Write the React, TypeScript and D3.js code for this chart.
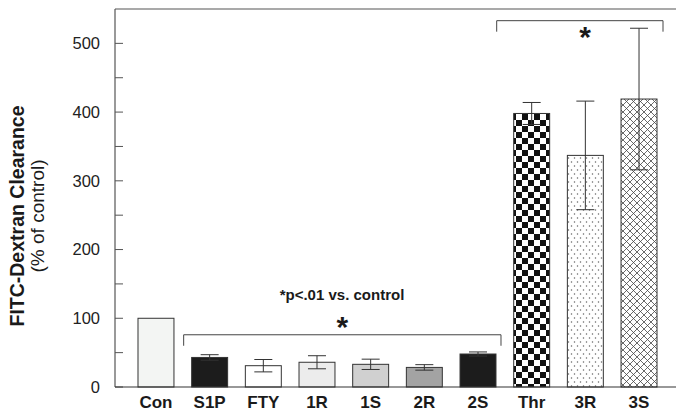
import React from 'react';
import * as d3 from 'd3';

const categories = ['Con', 'S1P', 'FTY', '1R', '1S', '2R', '2S', 'Thr', '3R', '3S'];
const means = [100, 43, 31, 36, 33, 28.5, 48, 398, 337, 419];
const errors = [0, 4, 9, 9.5, 7.5, 4, 3, 16, 79, 103];
const fills = ['#f3f5f3', '#1c1c1c', '#ffffff', '#ececec', '#d0d0d0', '#a3a3a3', '#1c1c1c', 'url(#checker)', 'url(#dots)', 'url(#xhatch)'];
const yTicks = [0, 50, 100, 150, 200, 250, 300, 350, 400, 450, 500];
const yLabels = [0, 100, 200, 300, 400, 500];
const lowGroup = ['S1P', '2S'];
const highGroup = ['Thr', '3S'];
const lowBracket = [76, 60];
const highBracket = [533, 517];

const W = 676, H = 414;
const X0 = 115, X1 = 676, Y0 = 387, Y1 = 9;

export default function App() {
  const x = d3.scaleBand<string>().domain(categories).range([119, 676]).paddingInner(0.33).paddingOuter(0.354);
  const y = d3.scaleLinear().domain([0, 550]).range([Y0, Y1]);
  const bw = x.bandwidth();
  const font = 'Liberation Sans, Arial, Helvetica, sans-serif';
  const cap = 18;

  const lx0 = (x(lowGroup[0]) as number) - 8;
  const lx1 = (x(lowGroup[1]) as number) + bw + 5;
  const hx0 = (x(highGroup[0]) as number) - 17;
  const hx1 = (x(highGroup[1]) as number) + bw + 6;

  return (
    <div style={{ position: 'fixed', left: 0, top: 0 }}>
      <svg width={W} height={H} style={{ display: 'block', background: '#fff' }}>
        <defs>
          <pattern id="checker" patternUnits="userSpaceOnUse" width={12} height={12}>
            <rect width={12} height={12} fill="#fff" />
            <rect x={0} y={0} width={6} height={6} fill="#111" />
            <rect x={6} y={6} width={6} height={6} fill="#111" />
          </pattern>
          <pattern id="dots" patternUnits="userSpaceOnUse" width={6} height={8}>
            <rect width={6} height={8} fill="#fff" />
            <circle cx={1.5} cy={2} r={0.75} fill="#666" />
            <circle cx={4.5} cy={6} r={0.75} fill="#666" />
          </pattern>
          <pattern id="xhatch" patternUnits="userSpaceOnUse" width={7} height={7}>
            <rect width={7} height={7} fill="#fff" />
            <path d="M0,0L7,7M7,0L0,7" stroke="#444" strokeWidth={0.8} />
          </pattern>
        </defs>

        {/* frame */}
        <line x1={X0} x2={X1} y1={Y1} y2={Y1} stroke="#555" strokeWidth={1.2} />
        <line x1={X0} x2={X0} y1={Y1} y2={Y0} stroke="#555" strokeWidth={1.2} />

        {yTicks.map((t) => (
          <line key={t} x1={X0} x2={X0 + 8} y1={y(t)} y2={y(t)} stroke="#555" strokeWidth={1} />
        ))}
        {yLabels.map((t) => (
          <text key={t} x={100} y={y(t)} dy="0.36em" textAnchor="end" fontFamily={font} fontSize={16.5} fill="#222">
            {t}
          </text>
        ))}

        {categories.map((c, i) => {
          const bx = x(c) as number;
          return (
            <g key={c}>
              <rect x={bx} y={y(means[i])} width={bw} height={Y0 - y(means[i])} fill={fills[i]} stroke="#333" strokeWidth={1} />
              {errors[i] > 0 && (
                <g stroke="#333" strokeWidth={1}>
                  <line x1={bx + bw / 2} x2={bx + bw / 2} y1={y(means[i] - errors[i])} y2={y(means[i] + errors[i])} />
                  <line x1={bx + bw / 2 - cap / 2} x2={bx + bw / 2 + cap / 2} y1={y(means[i] + errors[i])} y2={y(means[i] + errors[i])} />
                  <line x1={bx + bw / 2 - cap / 2} x2={bx + bw / 2 + cap / 2} y1={y(means[i] - errors[i])} y2={y(means[i] - errors[i])} />
                </g>
              )}
              <text x={bx + bw / 2} y={408} textAnchor="middle" fontFamily={font} fontWeight="bold" fontSize={17} fill="#1a1a1a">
                {c}
              </text>
            </g>
          );
        })}

        <line x1={X0} x2={X1} y1={Y0} y2={Y0} stroke="#333" strokeWidth={1.2} />

        {/* brackets */}
        <path d={`M${lx0},${y(lowBracket[1])}V${y(lowBracket[0])}H${lx1}V${y(lowBracket[1])}`} fill="none" stroke="#444" strokeWidth={1} />
        <path d={`M${hx0},${y(highBracket[1])}V${y(highBracket[0])}H${hx1}V${y(highBracket[1])}`} fill="none" stroke="#444" strokeWidth={1} />
        <text x={(lx0 + lx1) / 2} y={337} textAnchor="middle" fontFamily={font} fontWeight="bold" fontSize={30} fill="#1a1a1a">*</text>
        <text x={585} y={47} textAnchor="middle" fontFamily={font} fontWeight="bold" fontSize={30} fill="#1a1a1a">*</text>
        <text x={342} y={300} textAnchor="middle" fontFamily={font} fontWeight="bold" fontSize={15} fill="#1a1a1a">*p&lt;.01 vs. control</text>

        {/* y title */}
        <text transform="translate(24,216) rotate(-90)" textAnchor="middle" fontFamily={font} fontWeight="bold" fontSize={19.5} fill="#1a1a1a">
          FITC-Dextran Clearance
        </text>
        <text transform="translate(44,216) rotate(-90)" textAnchor="middle" fontFamily={font} fontSize={19} fill="#1a1a1a">
          (% of control)
        </text>
      </svg>
    </div>
  );
}
